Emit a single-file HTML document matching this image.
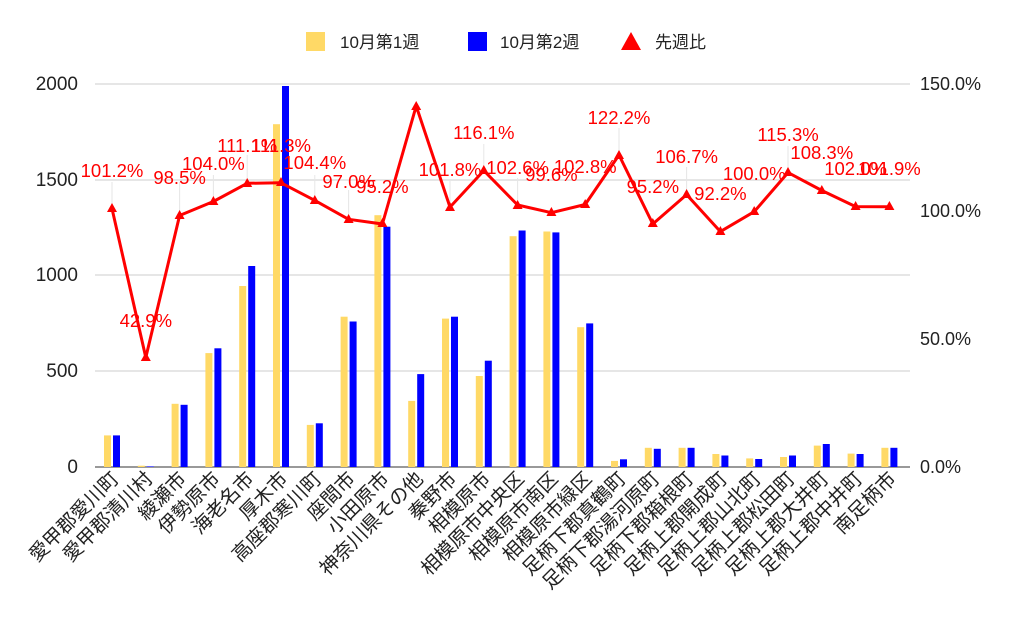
<!DOCTYPE html>
<html><head><meta charset="utf-8"><style>
html,body{margin:0;padding:0;background:#fff}
svg{display:block;font-family:"Liberation Sans","Noto Sans CJK JP",sans-serif}
</style></head><body>
<svg width="1024" height="633" viewBox="0 0 1024 633">
<rect width="1024" height="633" fill="#fff"/>
<g stroke="#cccccc" stroke-width="1">
<line x1="95" y1="84" x2="910" y2="84"/><line x1="95" y1="180" x2="910" y2="180"/>
<line x1="95" y1="275" x2="910" y2="275"/><line x1="95" y1="371" x2="910" y2="371"/>
</g>
<line x1="95" y1="467" x2="910" y2="467" stroke="#333" stroke-width="1"/>
<g font-size="19" fill="#222" text-anchor="end">
<text x="78" y="90">2000</text><text x="78" y="186">1500</text><text x="78" y="281">1000</text>
<text x="78" y="377">500</text><text x="78" y="473">0</text>
</g>
<g font-size="18" fill="#222">
<text x="920" y="90">150.0%</text><text x="920" y="217">100.0%</text>
<text x="920" y="345">50.0%</text><text x="920" y="473">0.0%</text>
</g>
<!-- legend -->
<rect x="306" y="32" width="19" height="19" fill="#ffd966"/><text x="340" y="48" font-size="17" fill="#222">10月第1週</text>
<rect x="468" y="32" width="19" height="19" fill="#0000ff"/><text x="500" y="48" font-size="17" fill="#222">10月第2週</text>
<polygon points="631,32 641,50 621,50" fill="#ff0000"/><text x="655" y="48" font-size="17" fill="#222">先週比</text>
<!-- leader lines -->
<g stroke="#e6e6e6" stroke-width="1">
<line x1="112" y1="182" x2="112" y2="204"/><line x1="179.6" y1="182" x2="179.6" y2="211"/>
<line x1="213.4" y1="175" x2="213.4" y2="197"/><line x1="247.2" y1="155" x2="247.2" y2="179"/>
<line x1="314.8" y1="175" x2="314.8" y2="196"/><line x1="348.6" y1="190" x2="348.6" y2="215"/>
<line x1="450" y1="180" x2="450" y2="203"/><line x1="483.8" y1="144" x2="483.8" y2="166"/>
<line x1="517.6" y1="178" x2="517.6" y2="201"/><line x1="619" y1="128" x2="619" y2="151"/>
<line x1="686.6" y1="167" x2="686.6" y2="190"/><line x1="788" y1="146" x2="788" y2="168"/>
</g>
<g transform="translate(0,467) scale(1,-1)">
<g fill="#ffd966">
<rect x="104" y="0" width="7" height="31.6"/><rect x="137.8" y="0" width="7" height="1.3"/>
<rect x="171.6" y="0" width="7" height="63.2"/><rect x="205.4" y="0" width="7" height="113.9"/>
<rect x="239.2" y="0" width="7" height="181"/><rect x="273" y="0" width="7" height="342.8"/>
<rect x="306.8" y="0" width="7" height="42.1"/><rect x="340.6" y="0" width="7" height="150.3"/>
<rect x="374.4" y="0" width="7" height="251.8"/><rect x="408.2" y="0" width="7" height="66.1"/>
<rect x="442" y="0" width="7" height="148.4"/><rect x="475.8" y="0" width="7" height="91"/>
<rect x="509.6" y="0" width="7" height="230.8"/><rect x="543.4" y="0" width="7" height="235.5"/>
<rect x="577.2" y="0" width="7" height="139.8"/><rect x="611" y="0" width="7" height="6.1"/>
<rect x="644.8" y="0" width="7" height="19.2"/><rect x="678.6" y="0" width="7" height="19.2"/>
<rect x="712.4" y="0" width="7" height="13"/><rect x="746.2" y="0" width="7" height="8.6"/>
<rect x="780" y="0" width="7" height="10"/><rect x="813.8" y="0" width="7" height="21.4"/>
<rect x="847.6" y="0" width="7" height="13.4"/><rect x="881.4" y="0" width="7" height="19.2"/>
</g>
<g fill="#0000ff">
<rect x="113" y="0" width="7" height="31.6"/><rect x="146.8" y="0" width="7" height="0.6"/>
<rect x="180.6" y="0" width="7" height="62.2"/><rect x="214.4" y="0" width="7" height="118.7"/>
<rect x="248.2" y="0" width="7" height="201"/><rect x="282" y="0" width="7" height="381"/>
<rect x="315.8" y="0" width="7" height="43.7"/><rect x="349.6" y="0" width="7" height="145.5"/>
<rect x="383.4" y="0" width="7" height="240.3"/><rect x="417.2" y="0" width="7" height="92.9"/>
<rect x="451" y="0" width="7" height="150.3"/><rect x="484.8" y="0" width="7" height="106.3"/>
<rect x="518.6" y="0" width="7" height="236.5"/><rect x="552.4" y="0" width="7" height="234.6"/>
<rect x="586.2" y="0" width="7" height="143.6"/><rect x="620" y="0" width="7" height="7.7"/>
<rect x="653.8" y="0" width="7" height="18.2"/><rect x="687.6" y="0" width="7" height="19.2"/>
<rect x="721.4" y="0" width="7" height="11.5"/><rect x="755.2" y="0" width="7" height="8"/>
<rect x="789" y="0" width="7" height="11.5"/><rect x="822.8" y="0" width="7" height="23"/>
<rect x="856.6" y="0" width="7" height="13"/><rect x="890.4" y="0" width="7" height="19.2"/>
</g>
</g>
<polyline fill="none" stroke="#ff0000" stroke-width="3" stroke-linejoin="round" points="112,208.6 145.8,357.5 179.6,215.5 213.4,201.5 247.2,183.3 281,182.8 314.8,200.4 348.6,219.3 382.4,224 416.2,106 450,207.1 483.8,170.6 517.6,205 551.4,212.7 585.2,204.5 619,155 652.8,224 686.6,194.6 720.4,231.6 754.2,211.7 788,172.6 821.8,190.5 855.6,206.6 889.4,206.8"/>
<g fill="#ff0000">
<polygon points="112,203 117,212 107,212"/><polygon points="145.8,352 150.8,361 140.8,361"/>
<polygon points="179.6,210 184.6,219 174.6,219"/><polygon points="213.4,196 218.4,205 208.4,205"/>
<polygon points="247.2,178 252.2,187 242.2,187"/><polygon points="281,177 286,186 276,186"/>
<polygon points="314.8,195 319.8,204 309.8,204"/><polygon points="348.6,214 353.6,223 343.6,223"/>
<polygon points="382.4,218 387.4,227 377.4,227"/><polygon points="416.2,101 421.2,110 411.2,110"/>
<polygon points="450,202 455,211 445,211"/><polygon points="483.8,165 488.8,174 478.8,174"/>
<polygon points="517.6,200 522.6,209 512.6,209"/><polygon points="551.4,207 556.4,216 546.4,216"/>
<polygon points="585.2,199 590.2,208 580.2,208"/><polygon points="619,150 624,159 614,159"/>
<polygon points="652.8,218 657.8,227 647.8,227"/><polygon points="686.6,189 691.6,198 681.6,198"/>
<polygon points="720.4,226 725.4,235 715.4,235"/><polygon points="754.2,206 759.2,215 749.2,215"/>
<polygon points="788,167 793,176 783,176"/><polygon points="821.8,185 826.8,194 816.8,194"/>
<polygon points="855.6,201 860.6,210 850.6,210"/><polygon points="889.4,201 894.4,210 884.4,210"/>
</g>
<g font-size="18.5" fill="#ff0000" text-anchor="middle">
<text x="112" y="177">101.2%</text><text x="145.8" y="327">42.9%</text>
<text x="179.6" y="184">98.5%</text><text x="213.4" y="170">104.0%</text>
<text x="247.2" y="152">111.1%</text><text x="281" y="152">111.3%</text>
<text x="314.8" y="169">104.4%</text><text x="348.6" y="188">97.0%</text>
<text x="382.4" y="193">95.2%</text><text x="450" y="176">101.8%</text>
<text x="483.8" y="139">116.1%</text><text x="517.6" y="174">102.6%</text>
<text x="551.4" y="181">99.6%</text><text x="585.2" y="173">102.8%</text>
<text x="619" y="124">122.2%</text><text x="652.8" y="193">95.2%</text>
<text x="686.6" y="163">106.7%</text><text x="720.4" y="200">92.2%</text>
<text x="754.2" y="180">100.0%</text><text x="788" y="141">115.3%</text>
<text x="821.8" y="159">108.3%</text><text x="855.6" y="175">102.0%</text>
<text x="889.4" y="175">101.9%</text>
</g>
<g font-size="19.5" fill="#222" text-anchor="end">
<text transform="translate(120,480) rotate(-45)">愛甲郡愛川町</text>
<text transform="translate(153.8,480) rotate(-45)">愛甲郡清川村</text>
<text transform="translate(187.6,480) rotate(-45)">綾瀬市</text>
<text transform="translate(221.4,480) rotate(-45)">伊勢原市</text>
<text transform="translate(255.2,480) rotate(-45)">海老名市</text>
<text transform="translate(289,480) rotate(-45)">厚木市</text>
<text transform="translate(322.8,480) rotate(-45)">高座郡寒川町</text>
<text transform="translate(356.6,480) rotate(-45)">座間市</text>
<text transform="translate(390.4,480) rotate(-45)">小田原市</text>
<text transform="translate(424.2,480) rotate(-45)">神奈川県その他</text>
<text transform="translate(458,480) rotate(-45)">秦野市</text>
<text transform="translate(491.8,480) rotate(-45)">相模原市</text>
<text transform="translate(525.6,480) rotate(-45)">相模原市中央区</text>
<text transform="translate(559.4,480) rotate(-45)">相模原市南区</text>
<text transform="translate(593.2,480) rotate(-45)">相模原市緑区</text>
<text transform="translate(627,480) rotate(-45)">足柄下郡真鶴町</text>
<text transform="translate(660.8,480) rotate(-45)">足柄下郡湯河原町</text>
<text transform="translate(694.6,480) rotate(-45)">足柄下郡箱根町</text>
<text transform="translate(728.4,480) rotate(-45)">足柄上郡開成町</text>
<text transform="translate(762.2,480) rotate(-45)">足柄上郡山北町</text>
<text transform="translate(796,480) rotate(-45)">足柄上郡松田町</text>
<text transform="translate(829.8,480) rotate(-45)">足柄上郡大井町</text>
<text transform="translate(863.6,480) rotate(-45)">足柄上郡中井町</text>
<text transform="translate(897.4,480) rotate(-45)">南足柄市</text>
</g>
</svg>
</body></html>
